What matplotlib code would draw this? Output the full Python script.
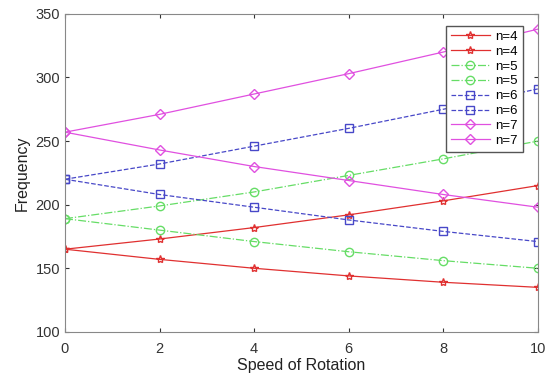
import numpy as np
import matplotlib
matplotlib.use("Agg")
import matplotlib.pyplot as plt

plt.rcParams['font.family'] = ['Liberation Sans', 'DejaVu Sans']

speed = [0, 2, 4, 6, 8, 10]

n4_up = [165, 173, 182, 192, 203, 215]
n4_down = [165, 157, 150, 144, 139, 135]
n5_up = [189, 199, 210, 223, 236, 250]
n5_down = [189, 180, 171, 163, 156, 150]
n6_up = [220, 232, 246, 260, 275, 291]
n6_down = [220, 208, 198, 188, 179, 171]
n7_up = [257, 271, 287, 303, 320, 338]
n7_down = [257, 243, 230, 219, 208, 198]

fig = plt.figure(figsize=(5.46, 3.75), dpi=100)
ax = fig.add_axes([0.119, 0.115, 0.866, 0.848])

# (series, colour, linestyle, marker, label)
curves = [
    (n4_up, "#e03030", "-", "*", "n=4"),
    (n4_down, "#e03030", "-", "*", "n=4"),
    (n5_up, "#66dd66", "-.", "o", "n=5"),
    (n5_down, "#66dd66", "-.", "o", "n=5"),
    (n6_up, "#4848c8", "--", "s", "n=6"),
    (n6_down, "#4848c8", "--", "s", "n=6"),
    (n7_up, "#e050e0", "-", "D", "n=7"),
    (n7_down, "#e050e0", "-", "D", "n=7"),
]
for ys, c, ls, m, lab in curves:
    ms = 6 if m != "D" else 5
    ax.plot(speed, ys, color=c, linestyle=ls, marker=m, markersize=ms,
            markerfacecolor="none", markeredgecolor=c, linewidth=0.9, label=lab)

ax.set_xlim(0, 10)
ax.set_ylim(100, 350)
ax.set_xticks([0, 2, 4, 6, 8, 10])
ax.set_yticks([100, 150, 200, 250, 300, 350])
ax.tick_params(direction="in", colors="#333333", labelsize=10.5, length=3,
               top=True, right=True)
ax.tick_params(axis="x", pad=7)
for s in ax.spines.values():
    s.set_color("#888888")
ax.set_xlabel("Speed of Rotation", fontsize=11.5, color="#222222", labelpad=2)
ax.set_ylabel("Frequency", fontsize=11.5, color="#222222", labelpad=4)

leg = ax.legend(loc="upper right", fontsize=9.5, handlelength=3.0, numpoints=1,
                labelspacing=0.2, borderpad=0.35, handletextpad=0.4,
                borderaxespad=0, fancybox=False, framealpha=1,
                edgecolor="#555555", bbox_to_anchor=(0.968, 0.962))

fig.savefig("out.png", dpi=100)
